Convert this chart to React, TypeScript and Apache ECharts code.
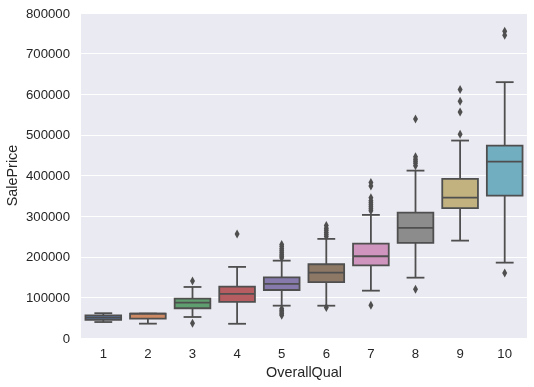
import React, { useEffect, useRef } from "react";
import * as echarts from "echarts";

const categories = ["1", "2", "3", "4", "5", "6", "7", "8", "9", "10"];
const whiskerLow = [39300, 35311, 51700, 35000, 79600, 79500, 116500, 148500, 239700, 185500];
const q1 = [44725, 47655, 73200, 88700, 118200, 137500, 179000, 234000, 319500, 350500];
const median = [50150, 60000, 87000, 108400, 133000, 161000, 201200, 271000, 345600, 434000];
const q3 = [55575, 60000, 96800, 126400, 149000, 181500, 232300, 308600, 391600, 473600];
const whiskerHigh = [61000, 60000, 125600, 175000, 190400, 244000, 303000, 412000, 486000, 629800];
const outliers: number[][] = [
  [],
  [],
  [140400, 36200],
  [256000],
  [197000, 201000, 205000, 210000, 215000, 220000, 225000, 230000, 72000, 68000, 64000, 60000, 56000],
  [250000, 255000, 260000, 265000, 270000, 277000, 75000],
  [313000, 318000, 323000, 328000, 333000, 338000, 345000, 374000, 383000, 80500],
  [424000, 430000, 435000, 440000, 446000, 539000, 120000],
  [501800, 556600, 582900, 611700],
  [745000, 755000, 160000],
];
const boxColors = ["#5875a3", "#cc8963", "#5f9e6e", "#b55d60", "#857aab", "#8d7866", "#d095bf", "#8c8c8c", "#c1b27f", "#71aec0"];

const LINE = "#4f4f4f";
const TEXT = "#262626";
const FONT = "'Liberation Sans', Arial, sans-serif";

export default function App() {
  const ref = useRef<HTMLDivElement>(null);
  useEffect(() => {
    if (!ref.current) return;
    const chart = echarts.init(ref.current, null, { renderer: "svg" });
    const boxData = categories.map((_, i) => [i, whiskerLow[i], q1[i], median[i], q3[i], whiskerHigh[i]]);
    const outlierData: number[][] = [];
    outliers.forEach((arr, i) => arr.forEach((v) => outlierData.push([i, v])));
    chart.setOption({
      animation: false,
      grid: {
        left: 81,
        right: 7,
        top: 13,
        bottom: 49,
        show: true,
        backgroundColor: "#EAEAF2",
        borderWidth: 0,
        containLabel: false,
        outerBoundsMode: "none",
      },
      xAxis: {
        type: "category",
        data: categories,
        name: "OverallQual",
        nameLocation: "middle",
        nameGap: 27,
        nameMoveOverlap: false,
        nameTextStyle: { fontSize: 14.4, color: TEXT, fontFamily: FONT },
        axisLine: { show: false },
        axisTick: { show: false },
        axisLabel: { fontSize: 13.2, color: TEXT, fontFamily: FONT, margin: 9 },
        splitLine: { show: false },
      },
      yAxis: {
        type: "value",
        min: 0,
        max: 800000,
        interval: 100000,
        name: "SalePrice",
        nameLocation: "middle",
        nameGap: 62,
        nameMoveOverlap: false,
        nameTextStyle: { fontSize: 14.4, color: TEXT, fontFamily: FONT },
        axisLine: { show: false },
        axisTick: { show: false },
        axisLabel: {
          fontSize: 13.2,
          color: TEXT,
          fontFamily: FONT,
          margin: 11,
          formatter: (v: number) => String(v),
        },
        splitLine: { show: true, lineStyle: { color: "#ffffff", width: 1.2 } },
      },
      series: [
        {
          type: "custom",
          data: boxData,
          renderItem: (params: any, api: any) => {
            const idx = api.value(0);
            const pLow = api.coord([idx, api.value(1)]);
            const pQ1 = api.coord([idx, api.value(2)]);
            const pMed = api.coord([idx, api.value(3)]);
            const pQ3 = api.coord([idx, api.value(4)]);
            const pHigh = api.coord([idx, api.value(5)]);
            const cx = pMed[0];
            const band = api.size([1, 0])[0];
            const hw = band * 0.4;
            const cw = hw / 2;
            const ls = { stroke: LINE, lineWidth: 1.8, fill: null };
            return {
              type: "group",
              children: [
                { type: "line", shape: { x1: cx, y1: pQ1[1], x2: cx, y2: pLow[1] }, style: ls },
                { type: "line", shape: { x1: cx, y1: pQ3[1], x2: cx, y2: pHigh[1] }, style: ls },
                { type: "line", shape: { x1: cx - cw, y1: pLow[1], x2: cx + cw, y2: pLow[1] }, style: ls },
                { type: "line", shape: { x1: cx - cw, y1: pHigh[1], x2: cx + cw, y2: pHigh[1] }, style: ls },
                {
                  type: "rect",
                  shape: { x: cx - hw, y: pQ3[1], width: hw * 2, height: pQ1[1] - pQ3[1] },
                  style: { fill: boxColors[params.dataIndex], stroke: LINE, lineWidth: 1.8 },
                },
                { type: "line", shape: { x1: cx - hw, y1: pMed[1], x2: cx + hw, y2: pMed[1] }, style: ls },
              ],
            };
          },
          z: 2,
        },
        {
          type: "scatter",
          data: outlierData,
          symbol: "diamond",
          symbolSize: [5, 9],
          itemStyle: { color: LINE, opacity: 1 },
          z: 3,
        },
      ],
    });
    return () => chart.dispose();
  }, []);
  return <div ref={ref} style={{ position: "fixed", left: 0, top: 0, width: 534, height: 387 }} />;
}
